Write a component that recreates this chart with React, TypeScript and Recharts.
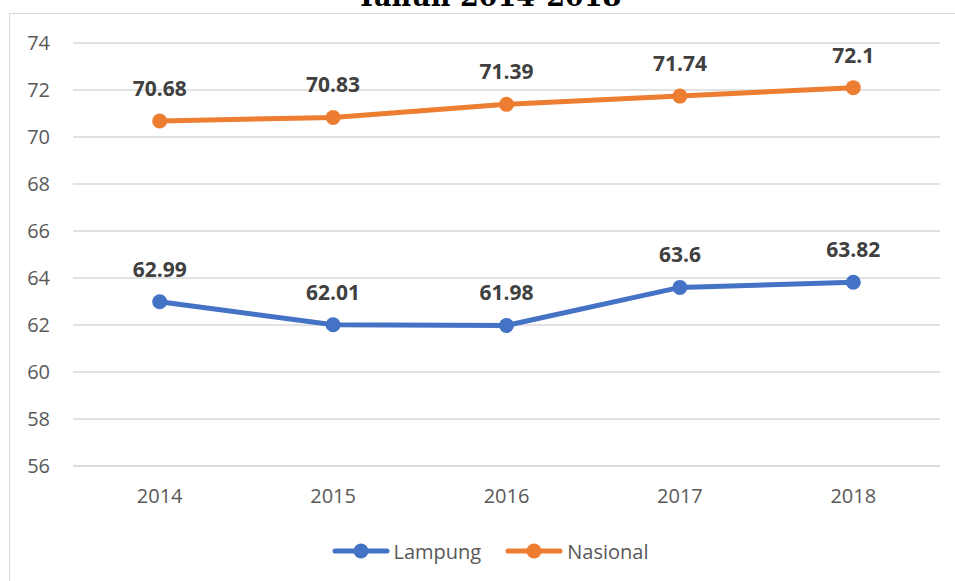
import type { JSX } from 'react';
import { CartesianGrid, LabelList, Legend, Line, LineChart, XAxis, YAxis } from 'recharts';

const years = ['2014', '2015', '2016', '2017', '2018'];
const lampung = [62.99, 62.01, 61.98, 63.6, 63.82];
const nasional = [70.68, 70.83, 71.39, 71.74, 72.1];
const yTicks = [56, 58, 60, 62, 64, 66, 68, 70, 72, 74];
const title = 'Tahun 2014-2018';

const seriesList = [
  { key: 'lampung', name: 'Lampung', color: '#4472C4' },
  { key: 'nasional', name: 'Nasional', color: '#ED7D31' },
];

const data = years.map((year, i) => ({ year, lampung: lampung[i], nasional: nasional[i] }));

const FONT = '"Open Sans", "Noto Sans", sans-serif';
const GRID = '#d9d9d9';
const TEXT = '#595959';

const LegendContent = (): JSX.Element => (
  <div
    style={{
      height: 50,
      display: 'flex',
      alignItems: 'center',
      justifyContent: 'center',
      paddingLeft: 40,
      gap: 24,
      fontFamily: FONT,
      fontSize: 20,
      color: TEXT,
      transform: 'translateY(-5px)',
    }}
  >
    {seriesList.map((s) => (
      <div key={s.key} style={{ display: 'flex', alignItems: 'center', gap: 4 }}>
        <svg width={58} height={18}>
          <line x1={3} y1={9} x2={55} y2={9} stroke={s.color} strokeWidth={5} strokeLinecap="round" />
          <circle cx={29} cy={9} r={7.5} fill={s.color} />
        </svg>
        <span>{s.name}</span>
      </div>
    ))}
  </div>
);

export default function App(): JSX.Element {
  return (
    <div style={{ position: 'absolute', left: 0, top: 0, width: 955, height: 581, overflow: 'hidden', background: '#fff' }}>
      <div
        style={{
          position: 'absolute',
          left: 9,
          top: 13,
          width: 980,
          height: 600,
          border: `1.5px solid ${GRID}`,
        }}
      />
      <svg width={955} height={30} style={{ position: 'absolute', left: 0, top: 0 }}>
        <text x={489} y={6} textAnchor="middle" fontFamily='"DejaVu Serif", serif' fontWeight="bold" fontSize={27} fill="#000">
          {title}
        </text>
      </svg>
      <div style={{ position: 'absolute', left: 0, top: 0 }}>
        <LineChart width={955} height={581} data={data} margin={{ top: 43, right: 15, left: 0, bottom: 0 }}>
          <CartesianGrid vertical={false} stroke={GRID} strokeWidth={1.5} />
          <XAxis
            dataKey="year"
            scale="band"
            height={65}
            axisLine={{ stroke: GRID, strokeWidth: 1.5 }}
            tickLine={false}
            tickMargin={17}
            tick={{ fill: TEXT, fontSize: 20, fontFamily: FONT }}
          />
          <YAxis
            width={73}
            domain={[56, 74]}
            ticks={yTicks}
            axisLine={false}
            tickLine={false}
            tickMargin={17}
            tick={{ fill: TEXT, fontSize: 20, fontFamily: FONT }}
          />
          <Legend verticalAlign="bottom" content={() => <LegendContent />} />
          {seriesList.map((s) => (
            <Line
              key={s.key}
              dataKey={s.key}
              name={s.name}
              type="linear"
              stroke={s.color}
              strokeWidth={5}
              dot={{ r: 7.5, fill: s.color, stroke: s.color, strokeWidth: 0 }}
              activeDot={false}
              isAnimationActive={false}
            >
              <LabelList
                dataKey={s.key}
                position="top"
                offset={25}
                fill="#404040"
                fontSize={21}
                fontWeight="bold"
                fontFamily={FONT}
              />
            </Line>
          ))}
        </LineChart>
      </div>
    </div>
  );
}
